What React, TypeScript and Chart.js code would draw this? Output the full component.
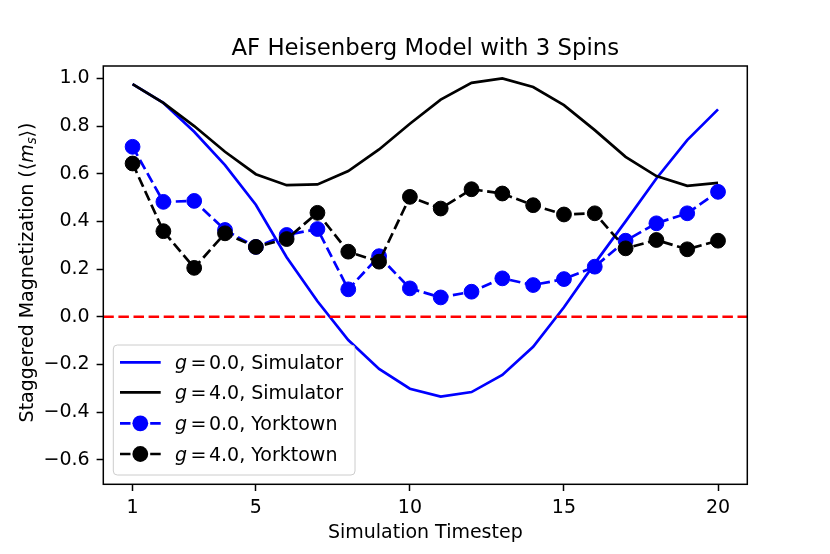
import React, { useEffect, useRef } from "react";
import { Chart, registerables } from "chart.js";

Chart.register(...registerables);

const TITLE = "AF Heisenberg Model with 3 Spins";
const X_LABEL = "Simulation Timestep";

const TIMESTEPS = [1, 2, 3, 4, 5, 6, 7, 8, 9, 10, 11, 12, 13, 14, 15, 16, 17, 18, 19, 20];

const SIM_G0 = [0.976, 0.897, 0.776, 0.636, 0.47, 0.25, 0.065, -0.098, -0.219, -0.302, -0.335, -0.316, -0.244, -0.126, 0.04, 0.224, 0.4, 0.58, 0.741, 0.87];
const SIM_G4 = [0.976, 0.897, 0.8, 0.692, 0.598, 0.552, 0.555, 0.611, 0.702, 0.81, 0.911, 0.981, 1.0, 0.964, 0.888, 0.783, 0.671, 0.59, 0.549, 0.562];
const YORK_G0 = [0.713, 0.482, 0.486, 0.364, 0.293, 0.343, 0.368, 0.115, 0.254, 0.119, 0.081, 0.105, 0.161, 0.133, 0.158, 0.21, 0.319, 0.392, 0.434, 0.524];
const YORK_G4 = [0.643, 0.359, 0.205, 0.35, 0.293, 0.326, 0.436, 0.273, 0.231, 0.503, 0.454, 0.535, 0.517, 0.468, 0.429, 0.434, 0.287, 0.322, 0.283, 0.319];

const X_TICKS = [1, 5, 10, 15, 20];
const Y_TICKS = [-0.6, -0.4, -0.2, 0.0, 0.2, 0.4, 0.6, 0.8, 1.0];
const X_MIN = 0.05;
const X_MAX = 20.95;
const Y_MIN = -0.703;
const Y_MAX = 1.052;
const ZERO_LINE = [0, 0];

const LEGEND_ITEMS = [
  { g: "0.0", name: "Simulator", color: "#0000ff", dashed: false, marker: false },
  { g: "4.0", name: "Simulator", color: "#000000", dashed: false, marker: false },
  { g: "0.0", name: "Yorktown", color: "#0000ff", dashed: true, marker: true },
  { g: "4.0", name: "Yorktown", color: "#000000", dashed: true, marker: true },
];

const FONT = '"DejaVu Sans", "Liberation Sans", sans-serif';
const LW = 2.7;
const DASH = [10.5, 4.6];
const MR = 7.4;

const toXY = (ys: number[]) => TIMESTEPS.map((t, i) => ({ x: t, y: ys[i] }));

const decorPlugin = {
  id: "decor",
  afterDraw(chart: any) {
    const ctx: CanvasRenderingContext2D = chart.ctx;
    const { left, top, right, bottom } = chart.chartArea;
    ctx.save();
    ctx.strokeStyle = "#000";
    ctx.lineWidth = 1.5;
    ctx.setLineDash([]);
    ctx.strokeRect(left, top, right - left, bottom - top);

    ctx.fillStyle = "#000";
    ctx.textAlign = "center";
    ctx.textBaseline = "alphabetic";
    ctx.font = `22.8px ${FONT}`;
    ctx.fillText(TITLE, (left + right) / 2, 55);

    ctx.font = `19px ${FONT}`;
    ctx.fillText(X_LABEL, (left + right) / 2, 538.3);

    ctx.save();
    ctx.translate(32.7, 272.5);
    ctx.rotate(-Math.PI / 2);
    ctx.textAlign = "left";
    const parts = [
      { t: "Staggered Magnetization (\u27E8", f: `19px ${FONT}`, dy: 0 },
      { t: "m", f: `italic 19px ${FONT}`, dy: 0 },
      { t: "s", f: `italic 13.3px ${FONT}`, dy: 3.5 },
      { t: "\u27E9)", f: `19px ${FONT}`, dy: 0 },
    ];
    let total = 0;
    for (const p of parts) {
      ctx.font = p.f;
      total += ctx.measureText(p.t).width;
    }
    let px = -total / 2;
    for (const p of parts) {
      ctx.font = p.f;
      ctx.fillText(p.t, px, p.dy);
      px += ctx.measureText(p.t).width;
    }
    ctx.restore();

    const bx = 113.3, by = 345, bw = 355 - 113.3, bh = 475 - 345;
    ctx.beginPath();
    (ctx as any).roundRect(bx, by, bw, bh, 4);
    ctx.fillStyle = "rgba(255,255,255,0.8)";
    ctx.fill();
    ctx.strokeStyle = "#cccccc";
    ctx.lineWidth = 1;
    ctx.stroke();
    const rows = [362.3, 392.3, 423.3, 454];
    LEGEND_ITEMS.forEach((it, i) => {
      const y = rows[i];
      ctx.strokeStyle = it.color;
      ctx.lineWidth = LW;
      ctx.setLineDash(it.dashed ? DASH : []);
      ctx.beginPath();
      ctx.moveTo(120, y);
      ctx.lineTo(160.7, y);
      ctx.stroke();
      ctx.setLineDash([]);
      if (it.marker) {
        ctx.beginPath();
        ctx.arc(140.3, y, MR + 0.5, 0, Math.PI * 2);
        ctx.fillStyle = it.color;
        ctx.fill();
      }
      ctx.fillStyle = "#000";
      ctx.textAlign = "left";
      ctx.textBaseline = "alphabetic";
      const base = y + 6.9;
      let x = 175;
      ctx.font = `italic 19px ${FONT}`;
      ctx.fillText("g", x, base);
      x += ctx.measureText("g").width + 3.5;
      ctx.font = `19px ${FONT}`;
      ctx.fillText("=", x, base);
      x += ctx.measureText("=").width + 2.5;
      ctx.fillText(`${it.g}, ${it.name}`, x, base);
    });
    ctx.restore();
  },
};

export default function App() {
  const ref = useRef<HTMLCanvasElement | null>(null);
  useEffect(() => {
    if (!ref.current) return;
    const chart = new Chart(ref.current, {
      type: "line",
      data: {
        datasets: [
          {
            label: "zero",
            data: [
              { x: X_MIN, y: ZERO_LINE[0] },
              { x: X_MAX, y: ZERO_LINE[1] },
            ],
            borderColor: "#ff0000",
            borderWidth: LW,
            borderDash: DASH,
            pointRadius: 0,
            order: 0,
          },
          {
            label: "g = 4.0, Yorktown",
            data: toXY(YORK_G4),
            borderColor: "#000000",
            backgroundColor: "#000000",
            borderWidth: LW,
            borderDash: DASH,
            pointRadius: MR,
            pointBorderWidth: 1,
            pointBackgroundColor: "#000000",
            pointBorderColor: "#000000",
            order: 1,
          },
          {
            label: "g = 0.0, Yorktown",
            data: toXY(YORK_G0),
            borderColor: "#0000ff",
            backgroundColor: "#0000ff",
            borderWidth: LW,
            borderDash: DASH,
            pointRadius: MR,
            pointBorderWidth: 1,
            pointBackgroundColor: "#0000ff",
            pointBorderColor: "#0000ff",
            order: 2,
          },
          {
            label: "g = 4.0, Simulator",
            data: toXY(SIM_G4),
            borderColor: "#000000",
            borderWidth: LW,
            pointRadius: 0,
            order: 3,
          },
          {
            label: "g = 0.0, Simulator",
            data: toXY(SIM_G0),
            borderColor: "#0000ff",
            borderWidth: LW,
            pointRadius: 0,
            order: 4,
          },
        ],
      },
      options: {
        animation: false,
        responsive: false,
        devicePixelRatio: 1,
        layout: { padding: { left: 0, right: 82.7, top: 66, bottom: 0 } },
        plugins: {
          legend: { display: false },
          title: { display: false },
          tooltip: { enabled: false },
        },
        scales: {
          x: {
            type: "linear",
            min: X_MIN,
            max: X_MAX,
            afterBuildTicks: (s: any) => {
              s.ticks = X_TICKS.map((v) => ({ value: v }));
            },
            afterFit: (s: any) => {
              s.height = 69.7;
            },
            border: { display: false },
            grid: {
              drawOnChartArea: false,
              drawTicks: true,
              tickLength: 6.7,
              tickWidth: 1.5,
              tickColor: "#000",
            },
            ticks: {
              color: "#000",
              font: { family: FONT, size: 19 },
              padding: 6,
              maxRotation: 0,
              autoSkip: false,
              callback: (v: any) => String(v),
            },
          },
          y: {
            type: "linear",
            min: Y_MIN,
            max: Y_MAX,
            afterBuildTicks: (s: any) => {
              s.ticks = Y_TICKS.map((v) => ({ value: v }));
            },
            afterFit: (s: any) => {
              s.width = 103.3;
            },
            border: { display: false },
            grid: {
              drawOnChartArea: false,
              drawTicks: true,
              tickLength: 6.7,
              tickWidth: 1.5,
              tickColor: "#000",
            },
            ticks: {
              color: "#000",
              font: { family: FONT, size: 19 },
              padding: 7,
              autoSkip: false,
              callback: (v: any) => {
                const n = Number(v);
                const s = Math.abs(n).toFixed(1);
                return n < -1e-9 ? "\u2212" + s : s;
              },
            },
          },
        },
      },
      plugins: [decorPlugin],
    });
    return () => chart.destroy();
  }, []);
  return (
    <div style={{ position: "absolute", left: 0, top: 0, width: 830, height: 554, background: "#fff" }}>
      <canvas ref={ref} width={830} height={554} style={{ display: "block", width: 830, height: 554 }} />
    </div>
  );
}
